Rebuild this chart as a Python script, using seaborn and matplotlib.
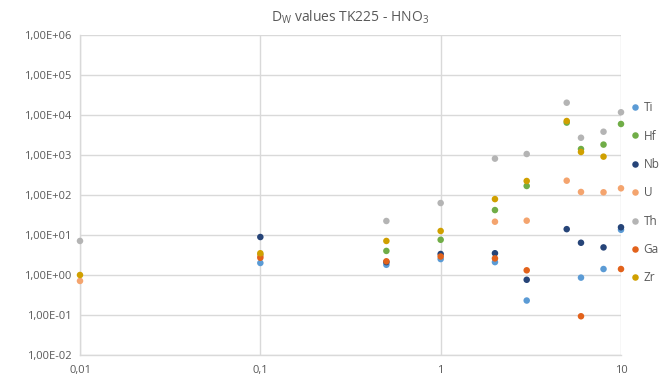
import numpy as np
import pandas as pd
import matplotlib
matplotlib.use("Agg")
import matplotlib.pyplot as plt
import matplotlib.ticker as mticker
import seaborn as sns

# HNO3 concentration (x) and Dw values per element
conc = [0.01, 0.1, 0.5, 1, 2, 3, 5, 6, 8, 10]
nan = np.nan
dw_ti = [nan, 2.0, 1.8, 2.5, 2.1, 0.23, nan, 0.86, 1.41, 13.5]
dw_hf = [nan, 3.2, 4.0, 7.6, 42, 168, 6450, 1410, 1820, 5960]
dw_nb = [nan, 8.9, 2.1, 3.35, 3.5, 0.76, 14, 6.4, 4.9, 15.6]
dw_u = [0.71, 3.0, nan, nan, 21.5, 22.8, 228, 119, 117, 147]
dw_th = [7.1, nan, 22.4, 63, 811, 1059, 20300, 2700, 3820, 11700]
dw_ga = [nan, 2.7, 2.2, 2.9, 2.6, 1.31, nan, 0.093, nan, 1.41]
dw_zr = [1.0, 3.5, 7.1, 12.6, 79, 224, 7080, 1190, 910, nan]

elements = ["Ti", "Hf", "Nb", "U", "Th", "Ga", "Zr"]
colors = ["#5B9BD5", "#70AD47", "#264478", "#F4A46E", "#B4B4B4", "#E2621B", "#D0A000"]

series = [dw_ti, dw_hf, dw_nb, dw_u, dw_th, dw_ga, dw_zr]
df = pd.concat(
    [pd.DataFrame({"conc": conc, "dw": v, "element": el}) for el, v in zip(elements, series)]
).dropna()

sns.set_theme(style="white")
plt.rcParams["font.family"] = ["Open Sans", "DejaVu Sans"]
txt = "#595959"
grid_c = "#D9D9D9"

fig = plt.figure(figsize=(6.71, 3.85), dpi=100)
ax = fig.add_axes([80 / 671, 30 / 385, 541 / 671, 320 / 385])

sns.scatterplot(data=df, x="conc", y="dw", hue="element", hue_order=elements,
                palette=dict(zip(elements, colors)), s=22, linewidth=0,
                clip_on=False, zorder=3, ax=ax)

ax.set_xscale("log")
ax.set_yscale("log")
ax.set_xlim(0.01, 10)
ax.set_ylim(1e-2, 1e6)
ax.xaxis.set_major_locator(mticker.FixedLocator([0.01, 0.1, 1, 10]))
ax.yaxis.set_major_locator(mticker.LogLocator(base=10, numticks=20))
ax.xaxis.set_minor_locator(mticker.NullLocator())
ax.yaxis.set_minor_locator(mticker.NullLocator())
ax.xaxis.set_major_formatter(mticker.FuncFormatter(
    lambda v, p: ("%g" % v).replace(".", ",")))
ax.yaxis.set_major_formatter(mticker.FuncFormatter(
    lambda v, p: ("%.2E" % v).replace(".", ",")))

ax.grid(True, color=grid_c, linewidth=1)
ax.set_axisbelow(True)
for side in ["top", "right"]:
    ax.spines[side].set_visible(False)
for side in ["left", "bottom"]:
    ax.spines[side].set_color(grid_c)
    ax.spines[side].set_linewidth(1)
ax.tick_params(axis="both", length=0, labelsize=8, colors=txt, pad=6)
ax.tick_params(axis="x", pad=7)
ax.set_xlabel("")
ax.set_ylabel("")
ax.xaxis.label.set_visible(False)
ax.yaxis.label.set_visible(False)

ax.set_title(r"D$_\mathregular{W}$ values TK225 - HNO$_\mathregular{3}$",
             fontsize=10, color=txt, pad=10)

ax.legend(loc="upper left", bbox_to_anchor=(0.998, 0.815), frameon=False,
          fontsize=8.5, labelcolor=txt, handletextpad=0.0, handlelength=1.4,
          labelspacing=1.3, markerscale=1.0, borderaxespad=0.2)

fig.savefig("out.png", dpi=100)
